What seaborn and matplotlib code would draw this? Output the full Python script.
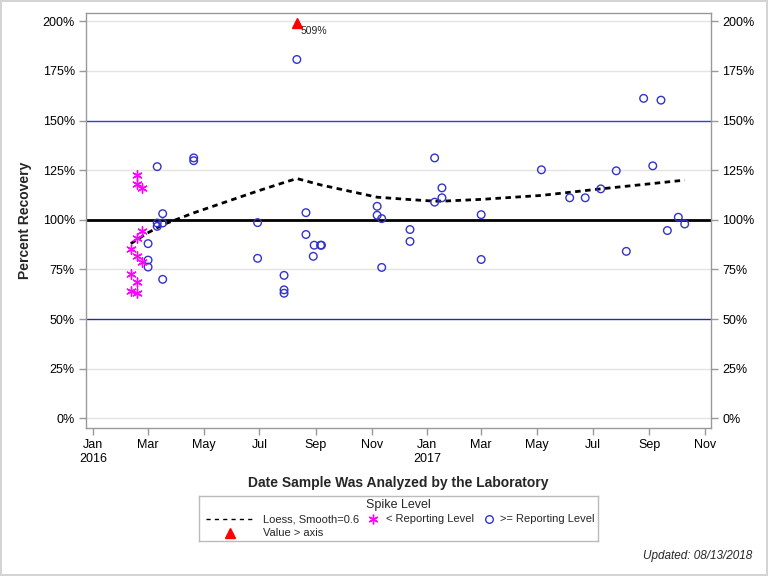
import matplotlib as mtl
mtl.use('Agg')
import matplotlib.pyplot as plt
import matplotlib.dates as mdates
import numpy as np
import pandas as pd
import seaborn as sns

# samples below the reporting level (pink asterisks)
below_dates = ["2016-02-11", "2016-02-11", "2016-02-11",
               "2016-02-18", "2016-02-18", "2016-02-18", "2016-02-18", "2016-02-18", "2016-02-18",
               "2016-02-23", "2016-02-23", "2016-02-23"]
below_pct = [85.2, 72.5, 64.3,
             122.8, 118.1, 90.6, 81.7, 68.8, 63.0,
             116.1, 94.2, 78.5]

# samples at or above the reporting level (blue circles)
above_dates = ["2016-03-01", "2016-03-01", "2016-03-01",
               "2016-03-11", "2016-03-11", "2016-03-11",
               "2016-03-17", "2016-03-17", "2016-03-17",
               "2016-04-20", "2016-04-20",
               "2016-06-29", "2016-06-29",
               "2016-07-28", "2016-07-28", "2016-07-28",
               "2016-08-11",
               "2016-08-21", "2016-08-21",
               "2016-08-29", "2016-08-30", "2016-09-06", "2016-09-07",
               "2016-11-07", "2016-11-07",
               "2016-11-12", "2016-11-12",
               "2016-12-13", "2016-12-13",
               "2017-01-09", "2017-01-09",
               "2017-01-17", "2017-01-17",
               "2017-03-01", "2017-03-01",
               "2017-05-06", "2017-06-06", "2017-06-23", "2017-07-10", "2017-07-27",
               "2017-08-07", "2017-08-26", "2017-09-05", "2017-09-14", "2017-09-21",
               "2017-10-03", "2017-10-10"]
above_pct = [88.0, 79.7, 76.2,
             126.8, 98.4, 96.7,
             103.1, 98.4, 70.0,
             131.2, 129.8,
             98.6, 80.6,
             72.0, 64.7, 63.0,
             180.8,
             103.6, 92.6,
             81.6, 87.2, 87.2, 87.2,
             106.8, 102.3,
             100.6, 76.0,
             95.1, 89.1,
             131.2, 108.9,
             116.1, 111.1,
             102.6, 80.0,
             125.2, 111.1, 111.1, 115.6, 124.7,
             84.1, 161.2, 127.2, 160.3, 94.6,
             101.3, 97.9]

# value above the axis
over_date = "2016-08-11"
over_value = 509

# loess curve as drawn
loess_dates = ["2016-02-11", "2016-03-01", "2016-03-17", "2016-04-20", "2016-06-29",
               "2016-07-28", "2016-08-11", "2016-09-06", "2016-11-07", "2016-12-13",
               "2017-01-09", "2017-01-17", "2017-03-01", "2017-05-06", "2017-07-10",
               "2017-09-05", "2017-10-10"]
loess_pct = [88.0, 93.5, 97.5, 103.5, 114.5,
             118.8, 120.8, 117.6, 111.4, 110.2,
             109.4, 109.4, 110.3, 112.3, 115.6,
             118.3, 120.0]

below = pd.DataFrame({"date": pd.to_datetime(below_dates), "pct": below_pct})
above = pd.DataFrame({"date": pd.to_datetime(above_dates), "pct": above_pct})
loess = pd.DataFrame({"date": pd.to_datetime(loess_dates), "pct": loess_pct})

sns.set_style("white")
plt.rcParams['font.family'] = ['Liberation Sans', 'DejaVu Sans']

fig = plt.figure(figsize=(7.68, 5.76), dpi=100)
fig.patch.set_edgecolor('#d4d4d4')
fig.patch.set_linewidth(1.5)
ax = fig.add_axes([0.112, 0.257, 0.814, 0.720])

blue = '#3333cc'
# grid + reference lines
for g in [0, 25, 75, 125, 175, 200]:
    ax.axhline(g, color='#e3e3e3', lw=1, zorder=0)
ax.axhline(50, color='#2a2a9a', lw=1, zorder=1)
ax.axhline(150, color='#3a3ad6', lw=1, zorder=1)
ax.axhline(100, color='black', lw=2, zorder=1)

sns.lineplot(data=loess, x="date", y="pct", ax=ax, color='black', lw=2,
             linestyle=(0, (2.0, 1.6)), zorder=3)
sns.scatterplot(data=above, x="date", y="pct", ax=ax, marker='o', s=30,
                facecolor='none', edgecolor=blue, linewidth=1, zorder=4)
sns.scatterplot(data=below, x="date", y="pct", ax=ax, marker=(6, 2, 0), s=45,
                color='magenta', edgecolor='magenta', linewidth=1, zorder=4)

od = pd.to_datetime(over_date)
ax.plot([od], [199.2], marker='^', color='red', ms=7, ls='none', zorder=5, clip_on=False)
ax.annotate("%d%%" % over_value, (mdates.date2num(od), 199.2), xytext=(3, -6),
            textcoords='offset points', fontsize=7.5, ha='left', va='center')

ax.set_ylim(-4.9, 204.1)
ax.set_xlim(pd.Timestamp("2015-12-24"), pd.Timestamp("2017-11-08"))
ax.set_yticks(np.arange(0, 201, 25))
ax.set_yticklabels(["%d%%" % v for v in np.arange(0, 201, 25)])

ticks = pd.date_range("2016-01-01", "2017-11-01", freq="2MS")
ax.set_xticks(ticks)
ax.set_xticklabels([t.strftime("%b") + ("\n%d" % t.year if t.month == 1 else "") for t in ticks])

ax.tick_params(axis='both', direction='out', length=5, width=1, color='#999999',
               labelsize=9, labelcolor='black', pad=3)
ax.tick_params(axis='y', right=True, labelright=True, left=True)
ax.tick_params(axis='x', bottom=True)
for sp in ax.spines.values():
    sp.set_color('#999999')
    sp.set_linewidth(1)

ax.set_ylabel("Percent Recovery", fontsize=10, fontweight='bold', labelpad=8)
ax.set_xlabel("Date Sample Was Analyzed by the Laboratory", fontsize=10, fontweight='bold', labelpad=8)

# legend box drawn in its own small axes (pixel units)
lg = fig.add_axes([199 / 768, 1 - 541 / 576, 399 / 768, 45 / 576])
lg.set_xlim(199, 598)
lg.set_ylim(541, 496)
lg.set_xticks([])
lg.set_yticks([])
for sp in lg.spines.values():
    sp.set_color('#bbbbbb')
    sp.set_linewidth(1)
lg.text(398, 505, "Spike Level", fontsize=9, ha='center', va='center')
lg.plot([206, 253], [519, 519], color='black', lw=1, linestyle=(0, (3, 3)))
lg.text(263, 519, "Loess, Smooth=0.6", fontsize=8, ha='left', va='center')
lg.plot([372.5], [519], marker=(6, 2, 0), color='magenta', ms=7, ls='none')
lg.text(386, 519, "< Reporting Level", fontsize=8, ha='left', va='center')
lg.plot([488.5], [519], marker='o', mfc='none', mec=blue, ms=5.5, ls='none')
lg.text(500, 519, ">= Reporting Level", fontsize=8, ha='left', va='center')
lg.plot([229.5], [533], marker='^', color='red', ms=7, ls='none')
lg.text(263, 533, "Value > axis", fontsize=8, ha='left', va='center')

fig.text(0.979, 0.035, "Updated: 08/13/2018", fontsize=8.5, style='italic', ha='right', va='center')

fig.savefig("out.png", dpi=100, edgecolor=fig.get_edgecolor())
